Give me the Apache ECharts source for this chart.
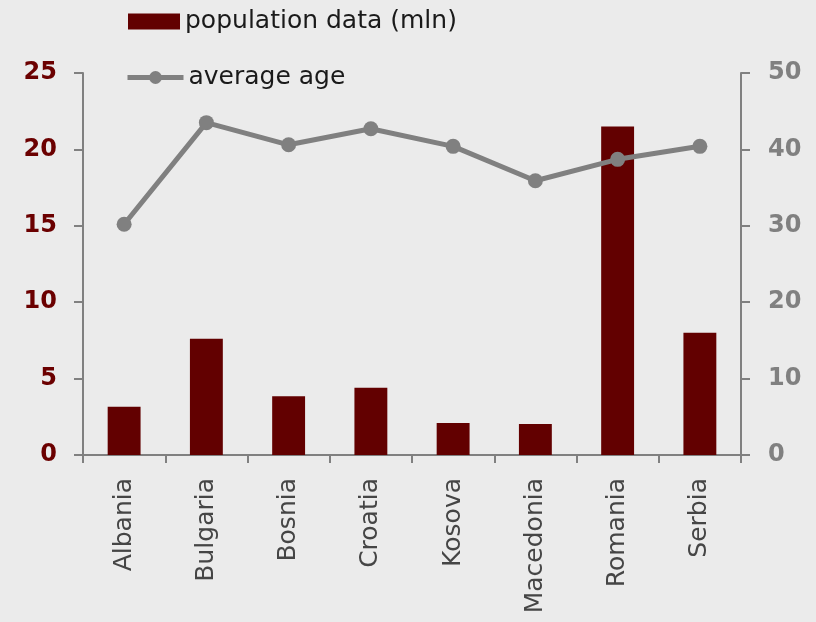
<!DOCTYPE html>
<html>
<head>
<meta charset="utf-8">
<script src="https://cdn.jsdelivr.net/npm/echarts@6/dist/echarts.min.js"></script>
<style>
  html, body { margin: 0; padding: 0; background: #ebebeb; }
  #chart { width: 816px; height: 622px; }
</style>
</head>
<body>
<div id="chart"></div>
<script>
// data
var countries = ['Albania', 'Bulgaria', 'Bosnia', 'Croatia', 'Kosova', 'Macedonia', 'Romania', 'Serbia'];
var population = [3.15, 7.6, 3.85, 4.4, 2.1, 2.03, 21.5, 8.0];
var averageAge = [30.2, 43.5, 40.6, 42.7, 40.4, 35.9, 38.7, 40.4];

var font = 'DejaVu Sans';
var chart = echarts.init(document.getElementById('chart'));
var option = {
  backgroundColor: '#ebebeb',
  animation: false,
  textStyle: { fontFamily: font },
  legend: [
    {
      data: [{ name: 'population data (mln)', icon: 'rect' }],
      left: 123, top: 4,
      itemWidth: 52, itemHeight: 16,
      textStyle: { fontSize: 25, color: '#1a1a1a', fontFamily: font }
    },
    {
      data: ['average age'],
      left: 120, top: 60,
      itemWidth: 56, itemHeight: 16,
      lineStyle: { width: 5, color: '#808080' },
      textStyle: { fontSize: 25, color: '#1a1a1a', fontFamily: font }
    }
  ],
  grid: { left: 83, right: 75, top: 73, bottom: 167, containLabel: false },
  xAxis: {
    type: 'category',
    data: countries,
    axisLine: { lineStyle: { color: '#808080', width: 2 } },
    axisTick: { show: true, length: 8, lineStyle: { color: '#808080', width: 2 } },
    axisLabel: { rotate: 90, margin: 23, fontSize: 25, color: '#454545', fontFamily: font, interval: 0 }
  },
  yAxis: [
    {
      type: 'value', min: 0, max: 25, interval: 5,
      splitLine: { show: false },
      axisLine: { show: true, lineStyle: { color: '#808080', width: 2 } },
      axisTick: { show: true, length: 9, lineStyle: { color: '#808080', width: 2 } },
      axisLabel: { fontSize: 24, fontWeight: 'bold', color: '#6b0000', margin: 26, fontFamily: font }
    },
    {
      type: 'value', min: 0, max: 50, interval: 10,
      splitLine: { show: false },
      axisLine: { show: true, lineStyle: { color: '#808080', width: 2 } },
      axisTick: { show: true, length: 9, lineStyle: { color: '#808080', width: 2 } },
      axisLabel: { fontSize: 24, fontWeight: 'bold', color: '#808080', margin: 27, fontFamily: font }
    }
  ],
  series: [
    {
      name: 'population data (mln)',
      type: 'bar',
      yAxisIndex: 0,
      barWidth: '40%',
      itemStyle: { color: '#620000' },
      data: population
    },
    {
      name: 'average age',
      type: 'line',
      yAxisIndex: 1,
      symbol: 'circle',
      symbolSize: 15,
      itemStyle: { color: '#808080' },
      lineStyle: { color: '#808080', width: 5 },
      data: averageAge
    }
  ]
};
chart.setOption(option);
</script>
</body>
</html>
